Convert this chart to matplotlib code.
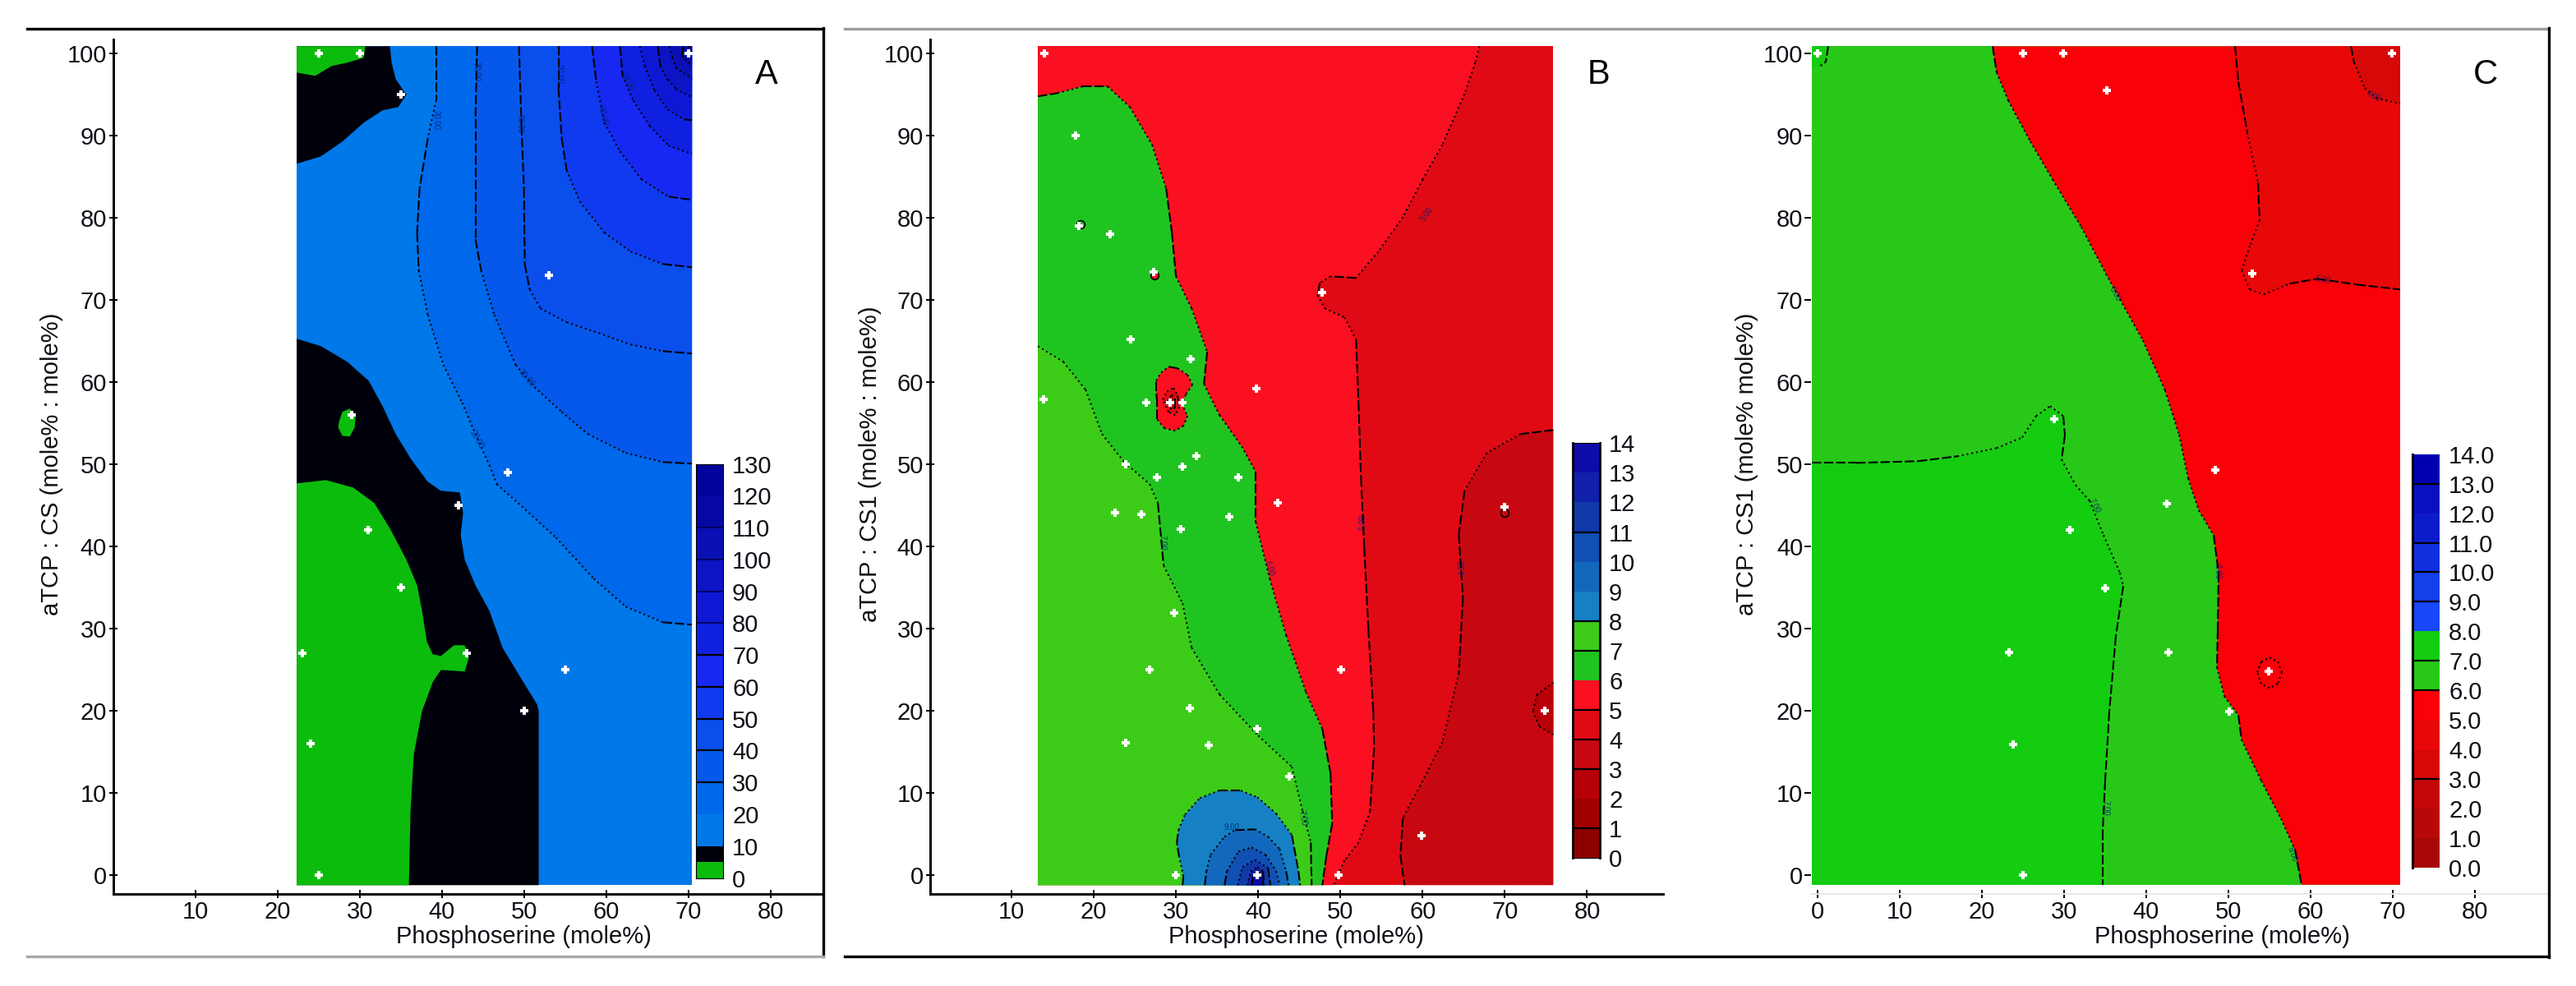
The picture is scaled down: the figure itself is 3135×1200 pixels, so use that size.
import matplotlib
matplotlib.use('Agg')
import matplotlib.pyplot as plt
from matplotlib.lines import Line2D

plt.rcParams['font.family'] = ['Liberation Sans', 'DejaVu Sans']

W = 3135.0
H = 1200.0
FS = 21
TXT = '#101018'

x_ticks = [10, 20, 30, 40, 50, 60, 70, 80]
y_ticks = [0, 10, 20, 30, 40, 50, 60, 70, 80, 90, 100]

# ---- panel A
a_levels = [0, 5, 10, 20, 30, 40, 50, 60, 70, 80, 90, 100, 110, 120, 130]
a_colors = ['#0CBC0C', '#00000A', '#0078E8', '#0068EA', '#0658EA', '#0A4EEC', '#103AF0', '#1628F2',
            '#1020E0', '#0E18D4', '#0C14C4', '#0A10B4', '#0608A4', '#00049C']
a_bar_lines = [30, 40, 50, 60, 70]
a_bar_faint = [80, 90, 100, 110]
a_xmin, a_xmax, a_ymin, a_ymax = 22.35, 70.45, -1.2, 100.9
a_pts_x = [25, 30, 70, 35, 53, 29, 48, 42, 31, 35, 23, 43, 55, 50, 24, 25]
a_pts_y = [100, 100, 100, 95, 73, 56, 49, 45, 42, 35, 27, 27, 25, 20, 16, 0]

a_green_top = [(22.35, 100.9), (22.35, 97.7), (24.6, 97.3), (26.6, 98.5), (28.5, 98.9), (30.5, 99.5), (30.7, 100.9)]
a_black_top = [(33.7, 100.9), (33.9, 98.9), (34.4, 96.9), (35.7, 95.0), (34.7, 93.5), (32.8, 93.1), (30.5, 91.6),
               (27.9, 89.3), (25.3, 87.5), (22.35, 86.6), (22.35, 100.9)]
a_black_mid = [(22.35, 65.3), (25.3, 64.4), (28.5, 62.5), (31.1, 60.2), (32.8, 57.1), (34.4, 53.7), (36.3, 50.6),
               (38.3, 47.9), (39.9, 46.8), (42.2, 46.6), (42.6, 44.1), (42.3, 41.4), (42.8, 38.4), (44.1, 35.3),
               (45.8, 32.2), (47.4, 27.7), (49.7, 23.9), (51.6, 20.8), (51.8, 20.0), (51.8, -1.2), (22.35, -1.2)]
a_green_main = [(22.35, 47.7), (25.9, 48.1), (29.2, 47.2), (31.8, 45.3), (33.7, 42.2), (35.7, 38.4), (37.0, 35.3),
                (37.6, 32.2), (38.2, 28.4), (38.9, 26.9), (39.9, 26.7), (41.5, 28.0), (42.8, 28.0), (43.3, 26.5),
                (42.8, 24.8), (39.9, 25.0), (38.9, 23.5), (37.6, 20.0), (36.6, 14.7), (36.2, 7.8), (36.0, -1.2),
                (22.35, -1.2)]
a_green_blob = [(27.5, 55.2), (27.9, 56.4), (28.8, 56.8), (29.5, 55.8), (29.4, 54.5), (28.8, 53.4), (27.9, 53.5),
                (27.4, 54.5)]
a_c20 = [(39.3, 100.9), (39.3, 94.3), (38.3, 89.7), (37.3, 83.6), (37.0, 78.2), (37.2, 73.6), (38.3, 68.2),
         (40.2, 62.1), (42.5, 57.5), (44.1, 53.7), (45.8, 49.9), (46.7, 47.6), (49.3, 45.3), (53.9, 41.1),
         (58.5, 36.1), (62.4, 32.7), (66.9, 30.8), (70.45, 30.5)]
a_c30 = [(44.3, 100.9), (44.1, 92.0), (44.1, 77.4), (44.8, 73.6), (46.4, 68.2), (49.0, 62.1), (51.3, 59.4),
         (54.6, 56.4), (57.8, 53.7), (62.4, 51.4), (66.9, 50.3), (70.45, 50.1)]
a_c40 = [(49.4, 100.9), (49.7, 91.2), (50.0, 83.6), (50.1, 74.4), (50.7, 71.3), (52.0, 69.0), (55.2, 67.3),
         (59.1, 66.0), (63.0, 64.6), (66.9, 63.8), (70.45, 63.5)]
a_c50 = [(54.2, 100.9), (54.2, 95.8), (54.6, 89.7), (55.2, 85.8), (56.8, 82.0), (59.8, 78.2), (63.0, 75.9),
         (66.9, 74.4), (70.45, 74.0)]
a_c60 = [(58.3, 100.9), (58.8, 96.6), (59.8, 91.6), (61.7, 88.1), (64.3, 84.7), (67.6, 82.6), (70.45, 82.2)]
a_c70 = [(61.7, 100.9), (62.0, 97.3), (63.3, 94.3), (65.3, 91.2), (67.6, 88.8), (70.45, 87.8)]
a_c80 = [(64.1, 100.9), (64.7, 98.5), (65.9, 95.5), (67.5, 93.2), (69.5, 92.0), (70.45, 91.9)]
a_c90 = [(66.3, 100.9), (66.6, 98.5), (67.5, 96.8), (68.5, 95.7), (70.45, 94.7)]
a_c100 = [(67.7, 100.9), (68.1, 99.5), (68.5, 98.3), (70.45, 96.9)]
a_c110 = [(69.4, 100.9), (69.2, 99.7), (70.45, 98.5)]
a_c120 = [(70.0, 100.9), (70.45, 100.2)]

# ---- panel B
b_levels = list(range(15))
b_colors = ['#8C0000', '#A00000', '#B80008', '#C80810', '#E00A14', '#FA1020', '#20C420', '#3CCC18',
            '#1580C4', '#1268BC', '#1050B4', '#1038A8', '#1020A8', '#0C0CA8']
b_bar_lines = [1, 3, 4, 5, 7, 8, 11]
b_xmin, b_xmax, b_ymin, b_ymax = 13.2, 75.9, -1.2, 100.9
b_pts_x = [14, 17.8, 18.2, 22, 27.3, 47.8, 24.5, 31.8, 39.8, 13.9, 26.4, 29.3, 30.8, 32.5, 23.9, 30.8, 27.7, 37.6,
           70, 42.4, 22.6, 25.8, 36.5, 30.6, 29.8, 26.8, 50.1, 31.7, 74.9, 39.9, 23.9, 34, 43.8, 59.9, 30, 39.9, 49.8]
b_pts_y = [100, 90, 79, 78, 73.4, 70.9, 65.2, 62.8, 59.2, 57.9, 57.5, 57.5, 57.5, 51, 50, 49.7, 48.4, 48.4,
           44.8, 45.3, 44.1, 43.9, 43.6, 42.1, 31.9, 25, 25, 20.3, 20, 17.8, 16.1, 15.8, 12, 4.8, 0, 0, 0]
b_c5 = [(66.9, 100.9), (66.4, 98.9), (65.1, 95.1), (62.4, 88.9), (60.0, 84.7), (57.6, 80.1), (54.6, 75.9),
        (51.9, 72.7), (48.8, 72.9), (47.5, 72.1), (47.2, 70.6), (48.1, 69.0), (50.5, 67.9), (51.9, 65.2),
        (52.2, 57.6), (52.5, 48.4), (52.9, 39.9), (53.4, 30.0), (54.0, 20.0), (54.1, 15.5), (53.6, 7.8),
        (52.2, 4.0), (50.5, 1.8), (49.2, -1.2)]
b_c4 = [(75.9, 54.2), (71.9, 53.7), (67.8, 51.4), (65.1, 46.8), (64.4, 41.5), (64.9, 33.8), (64.4, 24.6),
        (62.4, 16.2), (59.7, 10.9), (57.6, 7.0), (57.3, 2.4), (57.8, -1.2)]
b_lobe = [(75.9, 23.5), (73.9, 22.0), (73.4, 20.0), (74.2, 18.1), (75.9, 17.1)]
b_c6 = [(13.2, 94.8), (15.6, 95.2), (18.6, 96.0), (21.7, 96.0), (24.4, 93.5), (27.1, 88.9), (28.8, 83.6),
        (29.5, 78.2), (30.0, 72.9), (31.9, 69.0), (33.8, 63.7), (33.4, 59.8), (35.3, 56.0), (38.0, 52.2),
        (39.7, 49.1), (39.7, 43.0), (41.4, 36.1), (43.4, 29.2), (45.8, 22.3), (47.8, 17.8), (48.8, 12.4),
        (49.0, 6.3), (48.3, 2.4), (47.8, -1.2)]
b_c7 = [(13.2, 64.4), (16.3, 62.5), (19.0, 59.1), (21.0, 53.7), (23.7, 50.3), (26.8, 47.6), (27.8, 45.3),
        (28.5, 37.7), (30.8, 33.1), (31.9, 27.7), (35.3, 22.0), (40.0, 17.0), (44.1, 13.2), (45.4, 7.8),
        (46.4, 4.0), (46.5, -1.2)]
b_c8 = [(30.8, -1.2), (30.9, -0.1), (30.4, 2.2), (30.1, 3.9), (30.3, 5.5), (31.1, 7.4), (32.9, 9.4), (35.2, 10.3),
        (37.9, 10.3), (39.9, 9.5), (42.2, 7.5), (44.1, 4.9), (44.9, 0.5), (45.1, -1.2)]
b_c9 = [(33.5, -1.2), (33.7, 0.5), (34.2, 2.5), (35.9, 4.7), (37.2, 5.5), (39.6, 5.6), (41.2, 4.7), (42.6, 3.2),
        (43.4, 0.5), (43.7, -1.2)]
b_c10 = [(35.9, -1.2), (36.2, 0.5), (37.6, 2.9), (39.2, 3.4), (40.9, 2.5), (42.2, 0.5), (42.6, -1.2)]
b_c11 = [(37.5, -1.2), (38.1, 1.0), (39.6, 1.9), (41.2, 0.9), (41.5, -1.2)]
b_c12 = [(38.7, -1.2), (39.1, 0.5), (39.9, 1.0), (40.6, 0.5), (40.7, -1.2)]
b_c13 = [(39.2, -1.2), (39.4, 0.0), (40.1, 0.4), (40.6, -0.8), (40.6, -1.2)]
b_red_blob = [(27.6, 60.2), (28.2, 61.2), (29.1, 61.9), (30.2, 61.7), (31.4, 60.9), (32.0, 59.7), (31.2, 58.5),
              (30.7, 57.4), (31.4, 55.9), (30.9, 54.7), (29.9, 54.1), (28.6, 54.4), (27.7, 55.5), (27.7, 57.5),
              (27.6, 58.9)]
b_red_inner = [(28.4, 57.9), (28.9, 58.9), (29.7, 59.3), (30.2, 58.4), (30.4, 57.0), (29.9, 56.0), (29.1, 56.4)]
b_red_core = [(29.0, 57.7), (29.5, 58.5), (29.9, 57.9), (29.9, 56.9), (29.4, 56.7)]
b_spots_x = [18.4, 27.4, 70.0]
b_spots_y = [79.2, 73.0, 44.1]
b_spots_c = ['#20C420', '#FA1020', '#C80810']

# ---- panel C
c_levels = list(range(15))
c_colors = ['#A80808', '#B80808', '#C40808', '#D80808', '#E80808', '#FA0008', '#28C818', '#14CC10',
            '#1848FA', '#1440E8', '#1030E0', '#0C1CCC', '#0A10C0', '#0000B0']
c_bar_lines = [3, 6, 7, 9, 10, 11, 13]
c_labels = ['0.0', '1.0', '2.0', '3.0', '4.0', '5.0', '6.0', '7.0', '8.0', '9.0', '10.0', '11.0', '12.0', '13.0', '14.0']
c_xmin, c_xmax, c_ymin, c_ymax = -0.7, 70.9, -1.15, 100.9
c_pts_x = [0, 25, 29.9, 35.2, 52.9, 28.8, 48.4, 42.5, 30.7, 35, 23.3, 42.7, 54.9, 50.1, 23.8, 25, 69.9]
c_pts_y = [100, 100, 100, 95.5, 73.2, 55.5, 49.3, 45.2, 42, 34.9, 27.1, 27.1, 24.8, 19.9, 15.9, 0, 100]
c_c7 = [(-0.7, 50.2), (4.7, 50.2), (12.2, 50.4), (17.0, 51.0), (21.8, 52.0), (24.9, 53.3), (26.6, 55.9), (28.3, 57.1),
        (29.9, 55.9), (30.1, 53.6), (29.7, 50.6), (31.4, 47.5), (33.1, 45.6), (34.8, 41.4), (36.8, 36.8),
        (37.2, 35.2), (36.3, 29.1), (35.5, 19.9), (35.0, 11.5), (34.7, 5.4), (34.7, -1.15)]
c_c6 = [(21.3, 100.9), (21.8, 97.7), (23.2, 94.3), (25.9, 89.3), (28.6, 84.7), (32.1, 78.9), (35.1, 73.2), (36.8, 70.1),
        (39.6, 65.1), (42.3, 59.0), (44.0, 53.6), (45.1, 48.3), (46.4, 44.4), (48.2, 41.4), (48.8, 36.8),
        (48.7, 29.9), (48.6, 25.3), (49.5, 21.8), (51.2, 19.5), (51.6, 16.5), (54.0, 11.5), (56.4, 6.9),
        (58.1, 3.1), (58.9, -1.15)]
c_c5 = [(50.8, 100.9), (51.2, 96.6), (52.3, 90.4), (53.6, 84.3), (53.8, 79.7), (52.6, 76.6), (51.6, 73.6),
        (52.6, 71.3), (54.3, 70.7), (57.4, 72.0), (60.8, 72.6), (65.6, 71.9), (70.9, 71.3)]
c_c4 = [(64.9, 100.9), (65.3, 98.9), (66.6, 95.8), (68.0, 94.6), (70.9, 93.9)]
c_corner = [(1.3, 100.9), (1.0, 99.0), (0.2, 98.4)]
c_ring = [(53.5, 24.7), (54.0, 26.0), (55.0, 26.5), (56.0, 26.0), (56.5, 24.7), (56.0, 23.3), (55.0, 22.8), (54.0, 23.3),
          (53.5, 24.7)]


def make_axes(left, right, top, bottom):
    return fig.add_axes([left / W, (H - bottom) / H, (right - left) / W, (bottom - top) / H])


def xs(pts):
    return [p[0] for p in pts]


def ys(pts):
    return [p[1] for p in pts]


def fill(ax, pts, color, extra=()):
    all_pts = list(pts) + list(extra)
    ax.fill(xs(all_pts), ys(all_pts), color=color, lw=0, zorder=2)


def line(ax, pts):
    # long dashes where the curve runs along the pixel grid, dots where it runs diagonal
    for p, q in zip(pts[:-1], pts[1:]):
        dx = abs(q[0] - p[0])
        dy = abs(q[1] - p[1])
        if min(dx, dy) < 0.2 * max(dx, dy):
            style = (0, (5.5, 1.6))
        else:
            style = (0, (1.0, 1.8))
        ax.plot([p[0], q[0]], [p[1], q[1]], color='k', lw=1.5, ls=style, zorder=3)


def setup_axes(ax, xlim, ylim, xlabel, ylabel, xlabel_px, ylabel_px):
    ax.set_xlim(xlim)
    ax.set_ylim(ylim)
    ax.set_xticks(x_ticks)
    ax.set_yticks(y_ticks)
    ax.spines['top'].set_visible(False)
    ax.spines['right'].set_visible(False)
    ax.spines['left'].set_linewidth(2.1)
    ax.spines['bottom'].set_linewidth(2.1)
    ax.tick_params(axis='both', direction='inout', length=7, width=1.4, labelsize=FS, labelcolor=TXT, pad=2)
    ax.patch.set_alpha(0)
    fig.text(xlabel_px / W, 1 - 1140 / H, xlabel, fontsize=FS, color=TXT, ha='center', va='center')
    fig.text(ylabel_px / W, 1 - 565 / H, ylabel, fontsize=FS, color=TXT, ha='center', va='center', rotation=90)


def color_bar(left, right, top, bottom, levels, colors, lines, faint=(), labels=None, pad=8):
    cax = make_axes(left, right, top, bottom)
    for i in range(len(colors)):
        cax.bar(0, levels[i + 1] - levels[i], bottom=levels[i], width=1, color=colors[i], lw=0)
    for v in lines:
        cax.axhline(v, color='k', lw=1.6)
    for v in faint:
        cax.axhline(v, color='#000050', lw=1.2)
    cax.set_xlim(-0.5, 0.5)
    cax.set_ylim(levels[0], levels[-1])
    cax.set_xticks([])
    cax.yaxis.tick_right()
    if levels[-1] == 130:
        cax.set_yticks([0, 10, 20, 30, 40, 50, 60, 70, 80, 90, 100, 110, 120, 130])
    else:
        cax.set_yticks(levels)
    if labels is not None:
        cax.set_yticklabels(labels)
    cax.tick_params(axis='y', length=0, labelsize=FS, labelcolor=TXT, pad=pad)
    for t in cax.get_yticklabels():
        t.set_ha('left')
    return cax


def points(ax, px, py):
    ax.plot(px, py, ls='none', marker='P', ms=7.5, mfc='white', mec='white', mew=0, zorder=6)


def contour_label(ax, x, y, s, rot):
    ax.text(x, y, s, fontsize=7, color='#002070', rotation=rot, ha='center', va='center', zorder=5, alpha=0.8)


fig = plt.figure(figsize=(W / 100, H / 100), dpi=100, facecolor='white')

# panel frames
fig.add_artist(Line2D([33 / W, 1001.7 / W], [1 - 34.7 / H] * 2, color='k', lw=2.4))
fig.add_artist(Line2D([1001.7 / W, 1001.7 / W], [1 - 33.5 / H, 1 - 1164 / H], color='k', lw=2.4))
fig.add_artist(Line2D([33 / W, 1001.7 / W], [1 - 1163.5 / H] * 2, color='#a8a8a8', lw=2.4))
fig.add_artist(Line2D([1028 / W, 3101.5 / W], [1 - 34.7 / H] * 2, color='#9c9c9c', lw=2.4))
fig.add_artist(Line2D([1028 / W, 3101.5 / W], [1 - 1163.5 / H] * 2, color='k', lw=2.4))
fig.add_artist(Line2D([3101.5 / W, 3101.5 / W], [1 - 33.5 / H, 1 - 1164.5 / H], color='k', lw=2.4))

# ---- A
ax_a = make_axes(137.6, 1001, 48, 1088)
setup_axes(ax_a, (0, 86.34), (-2.27, 101.73), 'Phosphoserine (mole%)', 'aTCP : CS (mole% : mole%)', 637, 63)
a_box = [(a_xmin, a_ymin), (a_xmax, a_ymin), (a_xmax, a_ymax), (a_xmin, a_ymax)]
fill(ax_a, a_box, a_colors[2])
a_contours = [a_c20, a_c30, a_c40, a_c50, a_c60, a_c70, a_c80, a_c90, a_c100, a_c110, a_c120]
for i, c in enumerate(a_contours):
    fill(ax_a, c, a_colors[i + 3], [(a_xmax, a_ymax)])
for c in a_contours:
    line(ax_a, c)
fill(ax_a, a_black_top, a_colors[1])
fill(ax_a, a_black_mid, a_colors[1])
fill(ax_a, a_green_top, a_colors[0])
fill(ax_a, a_green_main, a_colors[0])
fill(ax_a, a_green_blob, a_colors[0])
contour_label(ax_a, 39.3, 91.9, '20.00', 270)
contour_label(ax_a, 44.2, 97.8, '30.00', 270)
contour_label(ax_a, 49.5, 91.5, '40.00', 270)
contour_label(ax_a, 54.3, 97.5, '50.00', 270)
contour_label(ax_a, 59.6, 92.4, '60.00', 285)
contour_label(ax_a, 62.6, 96.5, '70.00', 300)
contour_label(ax_a, 50.3, 60.5, '30.00', 310)
contour_label(ax_a, 44.3, 53.0, '20.00', 300)
points(ax_a, a_pts_x, a_pts_y)
ax_a.text(79.5, 97.4, 'A', fontsize=30, color='k', ha='center', va='center', zorder=7)
color_bar(847, 880, 564.5, 1068.6, a_levels, a_colors, a_bar_lines, a_bar_faint)

# ---- B
ax_b = make_axes(1131.5, 2024, 48, 1088)
setup_axes(ax_b, (0.05, 89.25), (-2.27, 101.73), 'Phosphoserine (mole%)', 'aTCP : CS1 (mole% : mole%)', 1577, 1059)
b_box = [(b_xmin, b_ymin), (b_xmax, b_ymin), (b_xmax, b_ymax), (b_xmin, b_ymax)]
fill(ax_b, b_box, b_colors[4])
fill(ax_b, b_c5, b_colors[5], [(b_xmin, b_ymin), (b_xmin, b_ymax)])
fill(ax_b, b_c4, b_colors[3], [(b_xmax, b_ymin)])
fill(ax_b, b_lobe, b_colors[2])
fill(ax_b, b_c6, b_colors[6], [(b_xmin, b_ymin)])
fill(ax_b, b_c7, b_colors[7], [(b_xmin, b_ymin)])
b_stack = [b_c8, b_c9, b_c10, b_c11, b_c12, b_c13]
for i, c in enumerate(b_stack):
    fill(ax_b, c, b_colors[i + 8])
fill(ax_b, b_red_blob, b_colors[5])
fill(ax_b, b_red_inner, b_colors[4])
fill(ax_b, b_red_core, b_colors[2])
for c in [b_c5, b_c4, b_lobe, b_c6, b_c7] + b_stack:
    line(ax_b, c)
for c in [b_red_blob, b_red_inner, b_red_core]:
    line(ax_b, c + c[:1])
for i in range(len(b_spots_x)):
    ax_b.plot(b_spots_x[i], b_spots_y[i], ls='none', marker='o', ms=7, mfc=b_spots_c[i], mec='k', mew=1.2, zorder=4)
contour_label(ax_b, 60.5, 80.5, '5.00', 55)
contour_label(ax_b, 52.7, 43.0, '5.00', 90)
contour_label(ax_b, 64.8, 37.5, '4.00', 90)
contour_label(ax_b, 41.3, 37.3, '6.00', 290)
contour_label(ax_b, 28.3, 40.5, '7.00', 270)
contour_label(ax_b, 45.4, 7.0, '7.00', 280)
contour_label(ax_b, 36.8, 5.8, '9.00', 0)
points(ax_b, b_pts_x, b_pts_y)
ax_b.text(81.4, 97.4, 'B', fontsize=30, color='k', ha='center', va='center', zorder=7)
bar_b = color_bar(1914, 1947, 539.4, 1044, b_levels, b_colors, b_bar_lines)
bar_b.spines['left'].set_linewidth(2)
bar_b.spines['right'].set_linewidth(2)

# ---- C
ax_c = make_axes(2204, 3101, 48, 1088)
setup_axes(ax_c, (-0.8, 88.9), (-2.27, 101.73), 'Phosphoserine (mole%)', 'aTCP : CS1 (mole% mole%)', 2704, 2126)
ax_c.spines['left'].set_visible(False)
ax_c.spines['bottom'].set_color('#e8e8e8')
ax_c.spines['bottom'].set_linewidth(1.4)
ax_c.set_xticks([0] + x_ticks)
ax_c.tick_params(axis='y', direction='out', length=6, pad=1)
c_box = [(c_xmin, c_ymin), (c_xmax, c_ymin), (c_xmax, c_ymax), (c_xmin, c_ymax)]
fill(ax_c, c_box, c_colors[6])
fill(ax_c, c_c7, c_colors[7], [(c_xmin, c_ymin)])
fill(ax_c, c_c6, c_colors[5], [(c_xmax, c_ymin), (c_xmax, c_ymax)])
fill(ax_c, c_c5, c_colors[4], [(c_xmax, c_ymax)])
fill(ax_c, c_c4, c_colors[3], [(c_xmax, c_ymax)])
fill(ax_c, c_corner, c_colors[7], [(-0.7, 98.4), (-0.7, 100.9)])
for c in [c_c7, c_c6, c_c5, c_c4, c_corner, c_ring]:
    line(ax_c, c)
contour_label(ax_c, 36.2, 70.8, '6.00', 300)
contour_label(ax_c, 33.7, 45.0, '7.00', 300)
contour_label(ax_c, 48.6, 37.0, '6.00', 270)
contour_label(ax_c, 35.0, 8.2, '7.00', 270)
contour_label(ax_c, 57.8, 2.5, '6.00', 290)
contour_label(ax_c, 61.5, 72.5, '5.00', 350)
contour_label(ax_c, 67.6, 94.8, '4.00', 330)
points(ax_c, c_pts_x, c_pts_y)
ax_c.text(81.3, 97.4, 'C', fontsize=30, color='k', ha='center', va='center', zorder=7)
bar_c = color_bar(2936, 2969, 552.8, 1055.7, c_levels, c_colors, c_bar_lines, labels=c_labels)
bar_c.spines['top'].set_visible(False)
bar_c.spines['right'].set_visible(False)
bar_c.spines['bottom'].set_visible(False)
bar_c.spines['left'].set_linewidth(2.2)

fig.savefig('out.png', dpi=100)
